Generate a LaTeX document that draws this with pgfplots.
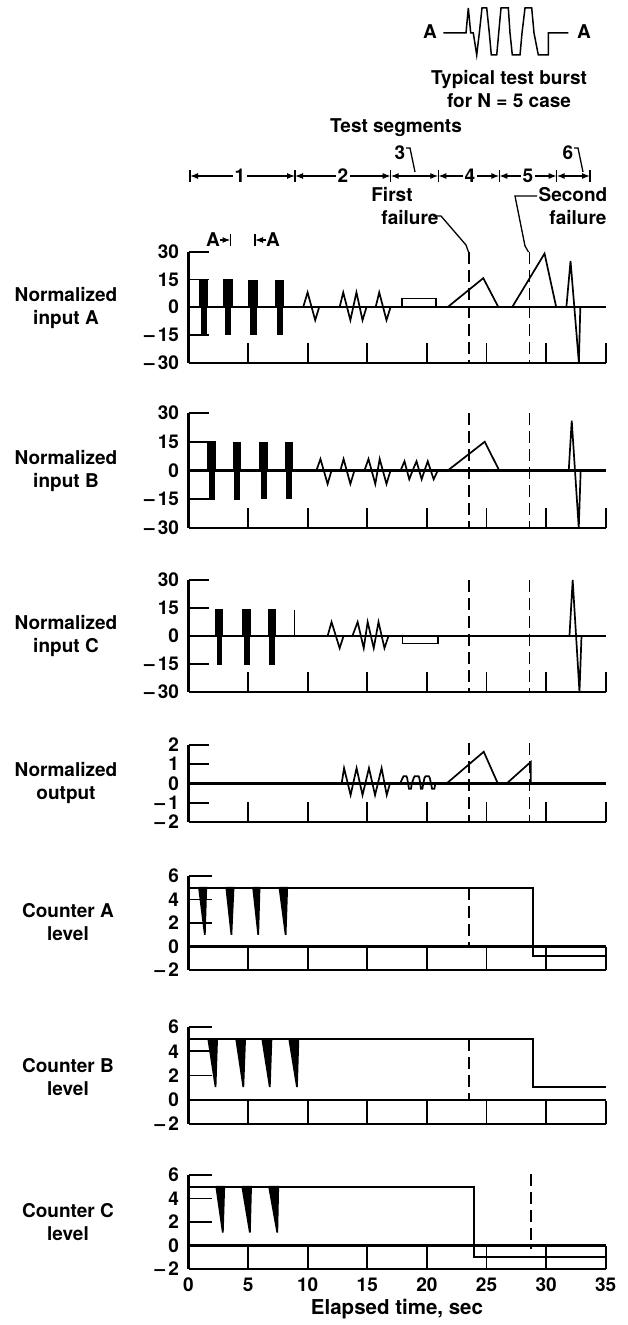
\documentclass[border=0pt]{standalone}
\usepackage{fontspec}
\setmainfont{TeX Gyre Heros}
\usepackage{pgfplots}
\pgfplotsset{compat=1.18}
\usetikzlibrary{arrows.meta}
\newcommand{\tl}{\fontsize{19}{23}\selectfont\bfseries}

\pgfplotsset{
  panel/.style={
    scale only axis, width=417.2pt, anchor=south west,
    xmin=0, xmax=35, enlargelimits=false,
    axis lines=left, axis line style={-, line width=2.2pt},
    tick align=inside, major tick length=20pt,
    tick style={line width=1.8pt, black},
    xtick={5,10,15,20,25,30,35}, xticklabels={},
    yticklabel style={font=\tl, xshift=-6pt},
    xticklabel style={font=\tl, yshift=-5pt},
    clip=false,
  },
  blk/.style={black, line width=1.7pt, mark=none},
  zero/.style={black, line width=2.2pt, mark=none},
  fail/.style={black, line width=1.8pt, mark=none, dash pattern=on 12pt off 6pt},
}

\begin{document}
\begin{tikzpicture}[x=1pt, y=1pt, font=\tl]
\useasboundingbox (0pt,0pt) rectangle (628pt,-1325pt);

% ---------- normalized input A
\begin{axis}[panel, at={(188.5pt,-362.7pt)}, height=111pt,
  ymin=-30, ymax=30, ytick={-30,-15,0,15,30},
  yticklabels={--\,30,--\,15,0,15,30}]
\addplot[zero] coordinates {(0,0) (35,0)};
\addplot[blk] coordinates {(0.97,0)(0.97,15)(1.09,15)(1.09,-14.5)(1.21,-14.5)(1.21,15)(1.34,15)(1.34,-14.5)(1.46,-14.5)(1.46,15)(1.58,15)(1.58,0)};
\addplot[blk] coordinates {(2.98,0)(2.98,15)(3.11,15)(3.11,-14.5)(3.24,-14.5)(3.24,15)(3.36,15)(3.36,-14.5)(3.49,-14.5)(3.49,15)(3.62,15)(3.62,0)};
\addplot[blk] coordinates {(5.08,0)(5.08,14.5)(5.22,14.5)(5.22,-14.5)(5.37,-14.5)(5.37,14.5)(5.51,14.5)(5.51,-14.5)(5.66,-14.5)(5.66,14.5)(5.80,14.5)(5.80,0)};
\addplot[blk] coordinates {(7.33,0)(7.33,14.5)(7.46,14.5)(7.46,-14.5)(7.59,-14.5)(7.59,14.5)(7.72,14.5)(7.72,-14.5)(7.85,-14.5)(7.85,14.5)(7.98,14.5)(7.98,0)};
\addplot[blk] coordinates {(9.62,0)(9.99,8)(10.63,-7)(10.96,0)};
\addplot[blk] coordinates {(12.68,0)(12.98,8)(13.58,-7)(14.09,8)(14.60,-7)(14.93,0)};
\addplot[blk] coordinates {(15.70,0)(16.00,8)(16.61,-7)(16.95,0)};
\addplot[blk] coordinates {(17.89,0)(17.89,4.7)(20.76,4.7)(20.76,0)};
\addplot[blk] coordinates {(21.73,0)(24.73,15.7)(26.00,0)};
\addplot[blk] coordinates {(27.15,0)(29.87,29)(30.85,0)};
\addplot[blk] coordinates {(31.70,0)(32.05,25)(32.75,-30)(32.87,0)};
\addplot[fail] coordinates {(23.55,30) (23.55,-30)};
\addplot[fail] coordinates {(28.60,30) (28.60,-30)};
\end{axis}

% ---------- normalized input B
\begin{axis}[panel, at={(188.5pt,-528pt)}, height=115pt,
  ymin=-30, ymax=30, ytick={-30,-15,0,15,30},
  yticklabels={--\,30,--\,15,0,15,30}]
\addplot[zero] coordinates {(0,0) (35,0)};
\addplot[blk] coordinates {(1.66,0)(1.66,15)(1.78,15)(1.78,-15)(1.90,-15)(1.90,15)(2.02,15)(2.02,-15)(2.14,-15)(2.14,15)(2.26,15)(2.26,0)};
\addplot[blk] coordinates {(3.78,0)(3.78,14.5)(3.89,14.5)(3.89,-15)(4.01,-15)(4.01,14.5)(4.12,14.5)(4.12,-15)(4.24,-15)(4.24,14.5)(4.35,14.5)(4.35,0)};
\addplot[blk] coordinates {(6.02,0)(6.02,14.5)(6.14,14.5)(6.14,-14.5)(6.25,-14.5)(6.25,14.5)(6.37,14.5)(6.37,-14.5)(6.48,-14.5)(6.48,14.5)(6.60,14.5)(6.60,0)};
\addplot[blk] coordinates {(8.14,0)(8.14,14.5)(8.25,14.5)(8.25,-14.5)(8.37,-14.5)(8.37,14.5)(8.48,14.5)(8.48,-14.5)(8.60,-14.5)(8.60,14.5)(8.71,14.5)(8.71,0)};
\addplot[blk] coordinates {(10.73,0)(11.07,6)(11.67,-7)(12.00,0)};
\addplot[blk] coordinates {(12.74,0)(13.01,6)(13.58,-7)(13.92,0)};
\addplot[blk] coordinates {(14.76,0)(15.10,6)(15.67,-7)(16.04,6)(16.61,-7)(16.95,0)};
\addplot[blk] coordinates {(17.79,0)(18.12,4.8)(18.52,-4.6)(18.80,0)(19.13,4.8)(19.56,-4.6)(19.80,0)(20.07,4.8)(20.57,-4.6)(20.91,0)};
\addplot[blk] coordinates {(21.75,0)(24.85,15)(26.07,0)};
\addplot[blk] coordinates {(31.90,0)(32.15,26)(32.74,-30)(32.90,0)};
\addplot[fail] coordinates {(23.55,30) (23.55,-30)};
\addplot[fail] coordinates {(28.60,30) (28.60,-30)};
\end{axis}

% ---------- normalized input C
\begin{axis}[panel, at={(188.5pt,-692pt)}, height=112pt,
  ymin=-30, ymax=30, ytick={-30,-15,0,15,30},
  yticklabels={--\,30,--\,15,0,15,30}]
\addplot[zero] coordinates {(0,0) (35,0)};
\addplot[blk] coordinates {(2.33,0)(2.33,14)(2.43,14)(2.43,-15)(2.53,-15)(2.53,14)(2.64,14)(2.64,-15)(2.74,-15)(2.74,14)(2.84,14)(2.84,0)};
\addplot[blk] coordinates {(4.58,0)(4.58,14)(4.70,14)(4.70,-15)(4.82,-15)(4.82,14)(4.94,14)(4.94,-15)(5.06,-15)(5.06,14)(5.18,14)(5.18,0)};
\addplot[blk] coordinates {(6.70,0)(6.70,14)(6.82,14)(6.82,-15)(6.94,-15)(6.94,14)(7.06,14)(7.06,-15)(7.18,-15)(7.18,14)(7.30,14)(7.30,0)};
\addplot[blk] coordinates {(8.88,0)(8.88,14)};
\addplot[blk] coordinates {(11.67,0)(12.00,7.5)(12.68,-6.5)(13.01,0)};
\addplot[blk] coordinates {(13.75,0)(14.19,7.5)(14.70,-6.5)(15.03,7.5)(15.54,-6.5)(15.94,7.5)(16.44,-6.5)(16.78,0)};
\addplot[blk] coordinates {(17.95,0)(17.95,-4)(20.91,-4)(20.91,0)};
\addplot[blk] coordinates {(31.96,0)(32.23,30)(32.80,-30)(32.97,0)};
\addplot[fail] coordinates {(23.55,30) (23.55,-30)};
\addplot[fail] coordinates {(28.60,30) (28.60,-30)};
\end{axis}

% ---------- normalized output
\begin{axis}[panel, at={(188.5pt,-822pt)}, height=77pt,
  ymin=-2, ymax=2, ytick={-2,-1,0,1,2},
  yticklabels={--\,2,--\,1,0,1,2}]
\addplot[zero] coordinates {(0,0) (35,0)};
\addplot[blk] coordinates {(12.85,0)(13.05,0.8)(13.60,-0.6)(14.10,0.8)(14.60,-0.6)(15.14,0.8)(15.65,-0.6)(16.20,0.8)(16.63,-0.6)(16.90,0)};
\addplot[blk] coordinates {(17.74,0)(17.98,0.3)(18.04,0.38)(18.28,0.38)(18.34,0.3)(18.42,0)(18.50,-0.28)(18.66,-0.28)(18.74,0)(18.90,0.3)(18.98,0.38)(19.30,0.38)(19.36,0.3)(19.44,0)(19.50,-0.28)(19.62,-0.28)(19.70,0)(19.80,0.3)(19.90,0.38)(20.16,0.38)(20.24,0.3)(20.34,0)(20.44,-0.28)(20.62,-0.28)(20.72,0)(20.82,0)};
\addplot[blk] coordinates {(21.65,0)(24.77,1.65)(25.95,0)};
\addplot[blk] coordinates {(26.69,0)(28.71,1.12)(28.71,0)};
\addplot[fail] coordinates {(23.55,2.1) (23.55,-2)};
\addplot[fail] coordinates {(28.60,2.1) (28.60,-2)};
\end{axis}

% ---------- counter A
\begin{axis}[panel, at={(188.5pt,-970pt)}, height=94pt, major tick length=23pt,
  ymin=-2, ymax=6, ytick={-2,0,2,4,6},
  yticklabels={--\,2,0,2,4,6}]
\addplot[zero] coordinates {(0,0) (35,0)};
\addplot[blk] coordinates {(0,5)(28.88,5)(28.88,-0.78)(35,-0.78)};
\addplot[blk, fill=black] coordinates {(0.88,5)(1.49,5)(1.37,1)(0.88,5)};
\addplot[blk, fill=black] coordinates {(3.17,5)(3.78,5)(3.60,1)(3.17,5)};
\addplot[blk, fill=black] coordinates {(5.42,5)(5.96,5)(5.85,1)(5.42,5)};
\addplot[blk, fill=black] coordinates {(7.63,5)(8.28,5)(8.15,1)(7.63,5)};
\addplot[fail] coordinates {(23.55,5) (23.55,0)};
\end{axis}

% ---------- counter B
\begin{axis}[panel, at={(188.5pt,-1124pt)}, height=97pt, major tick length=23pt,
  ymin=-2, ymax=6, ytick={-2,0,2,4,6},
  yticklabels={--\,2,0,2,4,6}]
\addplot[zero] coordinates {(0,0) (35,0)};
\addplot[blk] coordinates {(0,5)(28.88,5)(28.88,1.05)(35,1.05)};
\addplot[blk, fill=black] coordinates {(1.66,5)(2.40,5)(2.27,1.05)(1.66,5)};
\addplot[blk, fill=black] coordinates {(4.00,5)(4.75,5)(4.60,1.05)(4.00,5)};
\addplot[blk, fill=black] coordinates {(6.19,5)(6.96,5)(6.82,1.05)(6.19,5)};
\addplot[blk, fill=black] coordinates {(8.45,5)(9.22,5)(9.10,1.05)(8.45,5)};
\addplot[fail] coordinates {(23.55,5) (23.55,0)};
\end{axis}

% ---------- counter C
\begin{axis}[panel, at={(188.5pt,-1269pt)}, height=94pt, major tick length=23pt,
  ymin=-2, ymax=6, ytick={-2,0,2,4,6},
  yticklabels={--\,2,0,2,4,6},
  xtick={0,5,10,15,20,25,30,35}, xticklabels={0,5,10,15,20,25,30,35}]
\addplot[zero] coordinates {(0,0) (35,0)};
\addplot[blk] coordinates {(0,5)(23.93,5)(23.93,-0.95)(35,-0.95)};
\addplot[blk, fill=black] coordinates {(2.33,5)(3.00,5)(2.88,1.1)(2.33,5)};
\addplot[blk, fill=black] coordinates {(4.51,5)(5.25,5)(5.15,1.1)(4.51,5)};
\addplot[blk, fill=black] coordinates {(6.76,5)(7.53,5)(7.45,1.1)(6.76,5)};
\addplot[fail] coordinates {(28.70,6.1) (28.70,-0.3)};
\end{axis}

% ---------- typical test burst (inset)
\begin{axis}[hide axis, scale only axis, width=628pt, height=1325pt,
  xmin=0, xmax=628, ymin=-1325, ymax=0, at={(0pt,-1325pt)}, anchor=south west, clip=false]
\addplot[blk, line width=1.5pt] coordinates {(443.3,-33)(466,-33)(468.3,-8)(470.7,-33)(473.3,-33)(476.7,-55)(479.3,-33)(482,-8)(486.7,-8)(489.3,-33)(491.3,-55)(496.7,-55)(498.7,-33)(501,-8)(508.3,-8)(510,-33)(512.3,-55)(520,-55)(522,-33)(525,-8)(531.7,-8)(534,-33)(538.3,-55)(548.3,-55)(548.3,-33)(568.3,-33)};
\end{axis}

% ---------- labels
\node at (430pt,-32pt) {A};
\node at (584pt,-32pt) {A};
\node at (509pt,-80pt) {Typical test burst};
\node at (509pt,-101pt) {for N = 5 case};
\node at (396pt,-128pt) {Test segments};

\begin{scope}[line width=1.3pt, >={Latex[length=8pt,width=6pt]}]
\draw[<->] (190pt,-176pt) -- (295pt,-176pt);
\draw[<->] (295pt,-176pt) -- (390.7pt,-176pt);
\draw[<->] (390.7pt,-176pt) -- (438.3pt,-176pt);
\draw[<->] (438.3pt,-176pt) -- (499.3pt,-176pt);
\draw[<->] (499.3pt,-176pt) -- (556.7pt,-176pt);
\draw[<->] (556.7pt,-176pt) -- (590pt,-176pt);
\foreach \b in {190,295,390.7,438.3,499.3,556.7,590}
  \draw (\b pt,-170pt) -- (\b pt,-182pt);
\node[fill=white, inner sep=1.5pt] at (240pt,-176pt) {1};
\node[fill=white, inner sep=1.5pt] at (343pt,-176pt) {2};
\node[fill=white, inner sep=1.5pt] at (470pt,-176pt) {4};
\node[fill=white, inner sep=1.5pt] at (528pt,-176pt) {5};
\node at (400pt,-153pt) {3};
\draw (406pt,-148pt) -- (410pt,-148pt) -- (415pt,-172pt);
\node at (568pt,-153pt) {6};
\draw (574pt,-148pt) -- (578pt,-148pt) -- (583pt,-172pt);
% failure leaders
\node at (392pt,-195pt) {First};
\node at (410pt,-218pt) {failure};
\draw (433pt,-216pt) -- (441pt,-216pt) -- (466pt,-245pt) -- (468.5pt,-252pt);
\node at (573pt,-195pt) {Second};
\node at (578pt,-218pt) {failure};
\draw (537pt,-196pt) -- (515pt,-196pt) -- (525pt,-246pt) -- (528.5pt,-252pt);
% A -> | | <- A
\node at (213pt,-240pt) {A};
\draw[->] (220pt,-240pt) -- (230.5pt,-240pt);
\draw (230.5pt,-234pt) -- (230.5pt,-246pt);
\draw (255pt,-234pt) -- (255pt,-246pt);
\draw[->] (266pt,-240pt) -- (255pt,-240pt);
\node at (273pt,-240pt) {A};
\end{scope}

\node[align=center] at (66pt,-308pt) {Normalized\\input A};
\node[align=center] at (66pt,-471pt) {Normalized\\input B};
\node[align=center] at (66pt,-636pt) {Normalized\\input C};
\node[align=center] at (66pt,-783pt) {Normalized\\output};
\node[align=center] at (68pt,-922pt) {Counter A\\level};
\node[align=center] at (68pt,-1077pt) {Counter B\\level};
\node[align=center] at (68pt,-1222pt) {Counter C\\level};
\node[font=\fontsize{20.5}{24}\selectfont\bfseries] at (397pt,-1309pt) {Elapsed time, sec};
\end{tikzpicture}
\end{document}
